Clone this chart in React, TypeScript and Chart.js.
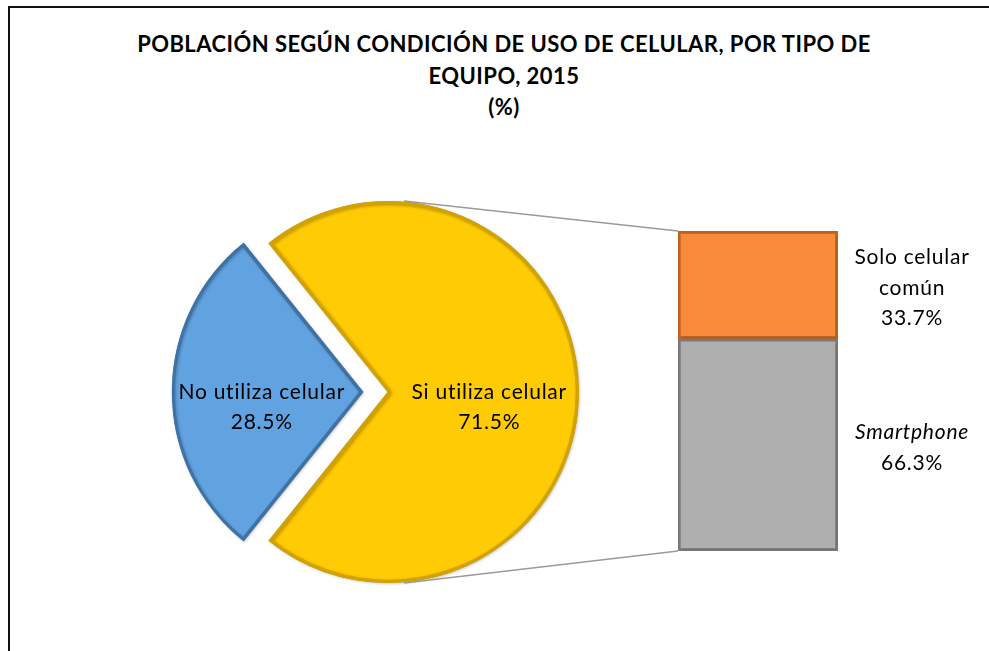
import React, { useEffect, useRef } from "react";
import { Chart, registerables } from "chart.js";
Chart.register(...registerables);

const titleLines = [
  "POBLACIÓN SEGÚN CONDICIÓN DE USO DE CELULAR, POR TIPO DE",
  "EQUIPO, 2015",
  "(%)",
];
const pieLabels = ["No utiliza celular", "Si utiliza celular"];
const pieValues = [28.5, 71.5];
const pieColors = ["#61A3E1", "#FFCB05"];
const pieBorders = ["#3F72A3", "#D2A200"];

const barCategories = ["Si utiliza celular"];
const barSeriesNames = ["Smartphone", "Solo celular común"];
const barSeriesLines = [["Smartphone"], ["Solo celular", "común"]];
const barSeriesItalic = [true, false];
const smartphoneValues = [66.3];
const soloComunValues = [33.7];
const barColors = ["#AFAFAF", "#F98A3B"];
const barBorders = ["#7A7A7A", "#C1611E"];

const W = 989;
const H = 651;
const FONT = "Lato, Carlito, Calibri, sans-serif";
const LABEL_FONT_SIZE = 21;
const LABEL_SPACING = "0.75px";

export default function App() {
  const pieRef = useRef<HTMLCanvasElement | null>(null);
  const barRef = useRef<HTMLCanvasElement | null>(null);

  useEffect(() => {
    if (!pieRef.current || !barRef.current) return;
    const total = pieValues.reduce((a, b) => a + b, 0);
    const rotation = 270 - (pieValues[0] / total) * 180;

    const shadowPlugin = {
      id: "softShadow",
      beforeDatasetsDraw(chart: any) {
        const ctx = chart.ctx;
        ctx.save();
        ctx.shadowColor = "rgba(0,0,0,0.25)";
        ctx.shadowBlur = 3;
        ctx.shadowOffsetX = 1;
        ctx.shadowOffsetY = 1;
      },
      afterDatasetsDraw(chart: any) {
        chart.ctx.restore();
      },
    };

    const pieLabelPlugin = {
      id: "pieLabels",
      afterDatasetsDraw(chart: any) {
        const ctx = chart.ctx;
        const meta = chart.getDatasetMeta(0);
        meta.data.forEach((arc: any, i: number) => {
          const { x, y, startAngle, endAngle, outerRadius } = arc;
          const off = (arc.options.offset || 0) / 4;
          const mid = (startAngle + endAngle) / 2;
          const d = off + outerRadius * 0.53;
          const cx = x + Math.cos(mid) * d;
          const cy = y + Math.sin(mid) * d;
          ctx.save();
          ctx.shadowColor = "transparent";
          ctx.fillStyle = "#000";
          ctx.font = `${LABEL_FONT_SIZE}px ${FONT}`;
          (ctx as any).letterSpacing = LABEL_SPACING;
          ctx.textAlign = "center";
          ctx.textBaseline = "middle";
          ctx.fillText(pieLabels[i], cx, cy);
          ctx.fillText(pieValues[i].toFixed(1) + "%", cx, cy + 30);
          ctx.restore();
        });
      },
    };

    const pie = new Chart(pieRef.current, {
      type: "pie",
      data: {
        labels: pieLabels,
        datasets: [
          {
            data: pieValues,
            backgroundColor: pieColors,
            borderColor: pieBorders,
            borderWidth: 3,
            borderAlign: "inner",
            offset: [100, 0],
            hoverOffset: 0,
          } as any,
        ],
      },
      options: {
        responsive: false,
        animation: false,
        events: [],
        rotation,
        radius: 191,
        layout: { padding: { left: 0, right: 213, top: 133, bottom: 0 } },
        plugins: { legend: { display: false }, tooltip: { enabled: false }, title: { display: false } },
      } as any,
      plugins: [shadowPlugin, pieLabelPlugin],
    });

    const barPlugin = {
      id: "barExtras",
      afterDatasetsDraw(chart: any) {
        const ctx = chart.ctx;
        const arc: any = pie.getDatasetMeta(0).data[1];
        const r = arc.outerRadius;
        const sx = arc.x + 16;
        const b0: any = chart.getDatasetMeta(0).data[0];
        const b1: any = chart.getDatasetMeta(1).data[0];
        const left = b0.x - b0.width / 2;
        const right = b0.x + b0.width / 2;
        const top = b1.y;
        const bottom = b0.base;
        ctx.save();
        ctx.shadowColor = "transparent";
        ctx.strokeStyle = "#9A9A9A";
        ctx.lineWidth = 1.5;
        ctx.beginPath();
        ctx.moveTo(sx, arc.y - r);
        ctx.lineTo(left, top);
        ctx.moveTo(sx, arc.y + r);
        ctx.lineTo(left, bottom);
        ctx.stroke();
        ctx.fillStyle = "#000";
        ctx.textAlign = "center";
        ctx.textBaseline = "middle";
        (ctx as any).letterSpacing = LABEL_SPACING;
        [b0, b1].forEach((bar: any, i: number) => {
          const segTop = Math.min(bar.y, bar.base);
          const segBot = Math.max(bar.y, bar.base);
          const cy = (segTop + segBot) / 2 + 3;
          const vals = [smartphoneValues, soloComunValues][i];
          const lines = [...barSeriesLines[i], vals[0].toFixed(1) + "%"];
          const lh = 30.5;
          const start = cy - ((lines.length - 1) * lh) / 2;
          lines.forEach((ln, k) => {
            const italic = k < barSeriesLines[i].length && barSeriesItalic[i];
            ctx.font = `${italic ? "italic " : ""}${LABEL_FONT_SIZE}px ${FONT}`;
            ctx.fillText(ln, right + 74, start + k * lh);
          });
        });
        ctx.restore();
      },
    };

    const bar = new Chart(barRef.current, {
      type: "bar",
      data: {
        labels: barCategories,
        datasets: [
          {
            label: barSeriesNames[0],
            data: smartphoneValues,
            backgroundColor: barColors[0],
            borderColor: barBorders[0],
            borderWidth: 3,
            borderSkipped: false,
            barPercentage: 1,
            categoryPercentage: 1,
          },
          {
            label: barSeriesNames[1],
            data: soloComunValues,
            backgroundColor: barColors[1],
            borderColor: barBorders[1],
            borderWidth: 3,
            borderSkipped: false,
            barPercentage: 1,
            categoryPercentage: 1,
          },
        ],
      },
      options: {
        responsive: false,
        animation: false,
        events: [],
        layout: { padding: { left: 678, right: W - 838, top: 231, bottom: H - 551 } },
        scales: {
          x: { display: false, stacked: true },
          y: { display: false, stacked: true, min: 0, max: 100 },
        },
        plugins: { legend: { display: false }, tooltip: { enabled: false } },
      } as any,
      plugins: [shadowPlugin, barPlugin],
    });

    return () => {
      bar.destroy();
      pie.destroy();
    };
  }, []);

  return (
    <div style={{ position: "absolute", left: 0, top: 0, width: W, height: H, overflow: "hidden", background: "#fff" }}>
      <div
        style={{
          position: "absolute",
          left: 8,
          top: 6,
          width: 1000,
          height: 700,
          borderTop: "2px solid #111",
          borderLeft: "2px solid #111",
        }}
      />
      <div
        style={{
          position: "absolute",
          left: 0,
          top: 28,
          width: 1008,
          textAlign: "center",
          fontFamily: FONT,
          fontWeight: 700,
          fontSize: 22,
          letterSpacing: "0.45px",
          lineHeight: "31.5px",
          color: "#000",
          whiteSpace: "nowrap",
        }}
      >
        {titleLines.map((t, i) => (
          <div key={i}>{t}</div>
        ))}
      </div>
      <canvas ref={pieRef} width={W} height={H} style={{ position: "absolute", left: 0, top: 0 }} />
      <canvas ref={barRef} width={W} height={H} style={{ position: "absolute", left: 0, top: 0 }} />
    </div>
  );
}
